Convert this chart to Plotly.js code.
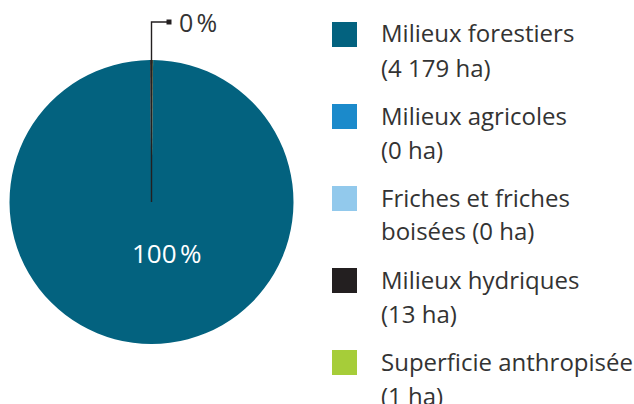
<!DOCTYPE html>
<html>
<head>
<meta charset="utf-8">
<script src="https://cdn.plot.ly/plotly-3.0.1.min.js"></script>
<style>html,body{margin:0;padding:0;background:#fff;}#chart{width:634px;height:404px;}</style>
</head>
<body>
<div id="chart"></div>
<script>
// ---- data ----
var categories = ['Milieux forestiers', 'Milieux agricoles', 'Friches et friches boisées', 'Milieux hydriques', 'Superficie anthropisée'];
var areasHa = [4179, 0, 0, 13, 1];
var colors = ['#03627f', '#1b8acb', '#92c9ec', '#231f20', '#a6cd39'];
// legend wrapping (where the reference breaks its lines)
var legendLine1 = ['Milieux forestiers', 'Milieux agricoles', 'Friches et friches', 'Milieux hydriques', 'Superficie anthropisée'];
var legendLine2 = ['(4\u00a0179 ha)', '(0 ha)', 'boisées (0 ha)', '(13 ha)', '(1 ha)'];
// which slice gets the outside leader label
var leaderIndex = 3;

var W = 634, H = 404;
var FONT = 'Open Sans, sans-serif';
var TXT = '#333333';
var total = areasHa.reduce(function(a, b){ return a + b; }, 0);
function pct(v){ return Math.round(v / total * 100) + '\u202f%'; }

// pie geometry (pixels)
var cx = 151.5, cy = 202, r = 142;
function px(x){ return x / W; }
function py(y){ return 1 - y / H; }

// rotate so the small slice sits centred under the leader at 12 o'clock
var afterLeader = 0;
for (var k = leaderIndex + 1; k < areasHa.length; k++) afterLeader += areasHa[k];
var rot = (areasHa[leaderIndex] / 2 + afterLeader) / total * 360;

var trace = {
  type: 'pie',
  labels: categories,
  values: areasHa,
  marker: { colors: colors, line: { width: 0 } },
  sort: false,
  direction: 'clockwise',
  rotation: rot,
  textinfo: 'none',
  domain: { x: [px(cx - r), px(cx + r)], y: [py(cy + r), py(cy - r)] },
  hoverinfo: 'label+value+percent',
  showlegend: false
};

var shapes = [];
var annotations = [];

// main slice label
annotations.push({ xref: 'paper', yref: 'paper', x: px(166), y: py(253), xanchor: 'center', yanchor: 'middle',
  text: pct(areasHa[0]), showarrow: false, font: { family: FONT, size: 26, color: '#ffffff', weight: 500 } });

// leader for the small slice
var topY = 22, elbowX = 169;
shapes.push({ type: 'path', xref: 'paper', yref: 'paper',
  path: 'M ' + px(cx) + ',' + py(cy) + ' L ' + px(cx) + ',' + py(topY) + ' L ' + px(elbowX) + ',' + py(topY),
  line: { color: '#231f20', width: 1.4 } });
shapes.push({ type: 'rect', xref: 'paper', yref: 'paper',
  x0: px(elbowX - 2.5), x1: px(elbowX + 2.5), y0: py(topY + 2.5), y1: py(topY - 2.5),
  fillcolor: '#231f20', line: { width: 0 } });
annotations.push({ xref: 'paper', yref: 'paper', x: px(177), y: py(topY), xanchor: 'left', yanchor: 'middle',
  text: pct(areasHa[leaderIndex]), showarrow: false, font: { family: FONT, size: 25, color: TXT } });

// legend
var legX = 332, legTop = 22, legStep = 82, sq = 25, textX = 379, lineGap = 34;
categories.forEach(function(c, i){
  var y0 = legTop + legStep * i;
  shapes.push({ type: 'rect', xref: 'paper', yref: 'paper',
    x0: px(legX), x1: px(legX + sq), y0: py(y0 + sq), y1: py(y0),
    fillcolor: colors[i], line: { width: 0 } });
  annotations.push({ xref: 'paper', yref: 'paper', x: px(textX), y: py(y0 + 11), xanchor: 'left', yanchor: 'middle',
    text: legendLine1[i], showarrow: false, font: { family: FONT, size: 24, color: TXT } });
  annotations.push({ xref: 'paper', yref: 'paper', x: px(textX), y: py(y0 + 11 + lineGap), xanchor: 'left', yanchor: 'middle',
    text: legendLine2[i], showarrow: false, font: { family: FONT, size: 24, color: TXT } });
});

var layout = {
  width: W, height: H,
  margin: { l: 0, r: 0, t: 0, b: 0 },
  paper_bgcolor: '#ffffff',
  plot_bgcolor: '#ffffff',
  showlegend: false,
  shapes: shapes,
  annotations: annotations
};

Plotly.newPlot('chart', [trace], layout, { displayModeBar: false, staticPlot: true });
</script>
</body>
</html>
